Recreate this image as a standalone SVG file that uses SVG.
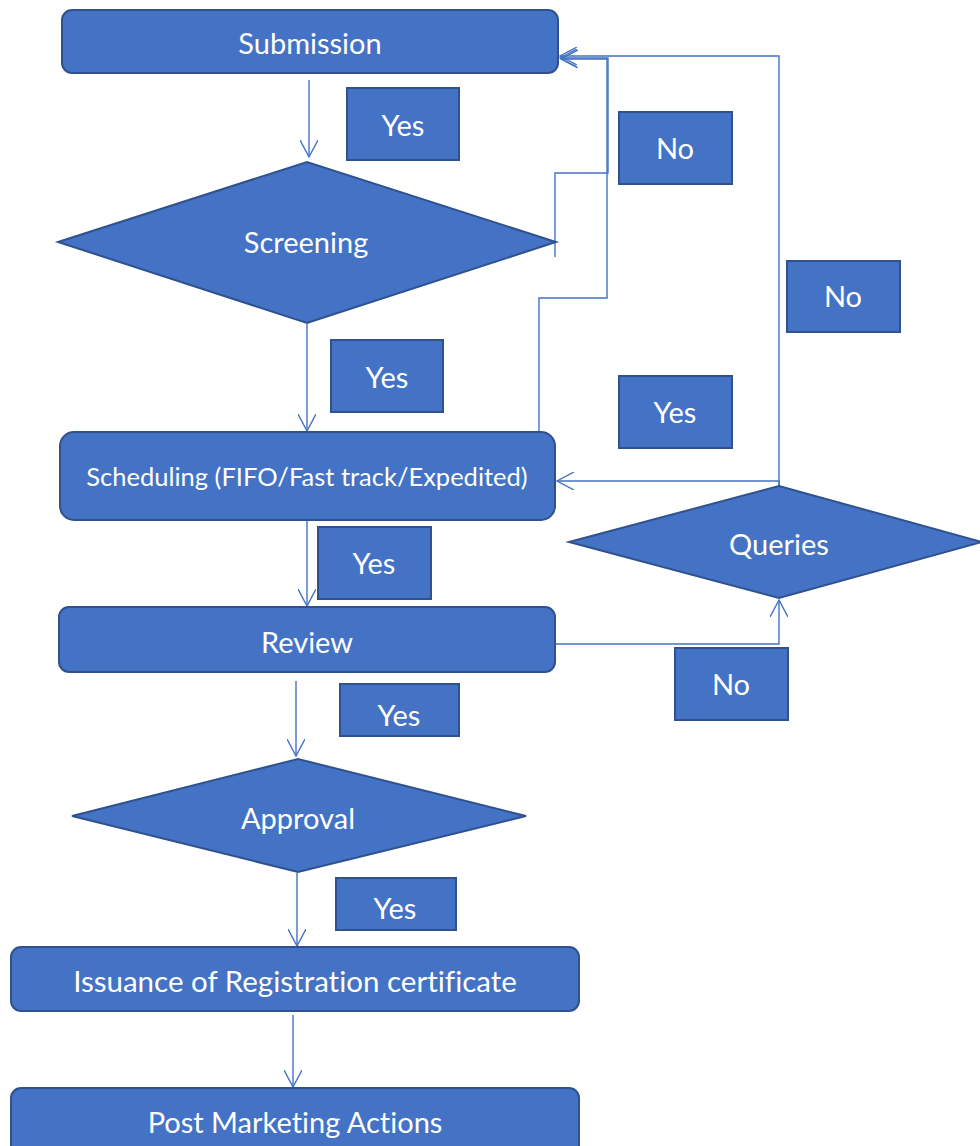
<svg xmlns="http://www.w3.org/2000/svg" width="980" height="1146" viewBox="0 0 980 1146">
<defs>
<marker id="arr" viewBox="0 0 18 18" refX="17" refY="9" markerWidth="18" markerHeight="18" markerUnits="userSpaceOnUse" orient="auto">
<path d="M0,0 L17,9 L0,18" fill="none" stroke="#4472C4" stroke-width="1.4"/>
</marker>
<style>
.shape{fill:#4472C4;stroke:#2F528F;stroke-width:2}
.lbl{fill:#4472C4;stroke:#2F528F;stroke-width:2}
.t{fill:#FFFFFF;font-family:Lato,"Open Sans","Liberation Sans",sans-serif;font-size:29px;text-anchor:middle;font-variant-ligatures:none;font-feature-settings:"liga" 0,"dlig" 0}
.ts{font-size:25.5px}
.c{fill:none;stroke:#4472C4;stroke-width:1.4}
</style>
</defs>
<rect width="980" height="1146" fill="#FFFFFF"/>
<g id="connectors">
<line class="c" x1="309" y1="80" x2="309" y2="157" marker-end="url(#arr)"/>
<line class="c" x1="307" y1="324" x2="307" y2="431" marker-end="url(#arr)"/>
<line class="c" x1="307" y1="521" x2="307" y2="606" marker-end="url(#arr)"/>
<line class="c" x1="296" y1="681" x2="296" y2="756" marker-end="url(#arr)"/>
<line class="c" x1="297" y1="873" x2="297" y2="946" marker-end="url(#arr)"/>
<line class="c" x1="293" y1="1015" x2="293" y2="1087" marker-end="url(#arr)"/>
<polyline class="c" points="555,257 555,173 608,173 608,58 560,58" marker-end="url(#arr)"/>
<polyline class="c" points="539,432 539,298 607,298 607,59 561,59" marker-end="url(#arr)"/>
<polyline class="c" points="779,486 779,56 560,56" marker-end="url(#arr)"/>
<polyline class="c" points="779,486 779,481 557,481" marker-end="url(#arr)"/>
<polyline class="c" points="556,644 779,644 779,600" marker-end="url(#arr)"/>
</g>
<g id="submission">
<rect class="shape" x="62" y="10" width="496" height="63" rx="10"/>
<text class="t" x="310" y="54">Submission</text>
</g>
<g id="screening">
<polygon class="shape" points="58,242 307,162 556,242 307,323"/>
<text class="t" x="306" y="253">Screening</text>
</g>
<g id="scheduling">
<rect class="shape" x="60" y="432" width="495" height="88" rx="14"/>
<text class="t ts" x="307" y="486">Scheduling (FIFO/Fast track/Expedited)</text>
</g>
<g id="review">
<rect class="shape" x="59" y="607" width="496" height="65" rx="10"/>
<text class="t" x="307" y="653">Review</text>
</g>
<g id="approval">
<polygon class="shape" points="72,816 298,759 526,816 298,872"/>
<text class="t" x="298" y="829">Approval</text>
</g>
<g id="issuance">
<rect class="shape" x="11" y="947" width="568" height="64" rx="10"/>
<text class="t" x="295" y="992" style="font-size:29.5px">Issuance of Registration certificate</text>
</g>
<g id="post-marketing">
<rect class="shape" x="11" y="1088" width="568" height="70" rx="10"/>
<text class="t" x="295" y="1133">Post Marketing Actions</text>
</g>
<g id="queries">
<polygon class="shape" points="569,542 779,486 982,542 779,598"/>
<text class="t" x="779" y="555">Queries</text>
</g>
<g id="label-yes-1"><rect class="lbl" x="347" y="88" width="112" height="72"/><text class="t" x="403" y="136">Yes</text></g>
<g id="label-no-1"><rect class="lbl" x="619" y="112" width="113" height="72"/><text class="t" x="675" y="159">No</text></g>
<g id="label-no-2"><rect class="lbl" x="787" y="261" width="113" height="71"/><text class="t" x="843" y="307">No</text></g>
<g id="label-yes-2"><rect class="lbl" x="331" y="340" width="112" height="72"/><text class="t" x="387" y="388">Yes</text></g>
<g id="label-yes-3"><rect class="lbl" x="619" y="376" width="113" height="72"/><text class="t" x="675" y="423">Yes</text></g>
<g id="label-yes-4"><rect class="lbl" x="318" y="527" width="113" height="72"/><text class="t" x="374" y="574">Yes</text></g>
<g id="label-no-3"><rect class="lbl" x="675" y="648" width="113" height="72"/><text class="t" x="731" y="695">No</text></g>
<g id="label-yes-5"><rect class="lbl" x="340" y="684" width="119" height="52"/><text class="t" x="399" y="726">Yes</text></g>
<g id="label-yes-6"><rect class="lbl" x="336" y="878" width="120" height="52"/><text class="t" x="395" y="919">Yes</text></g>
</svg>
